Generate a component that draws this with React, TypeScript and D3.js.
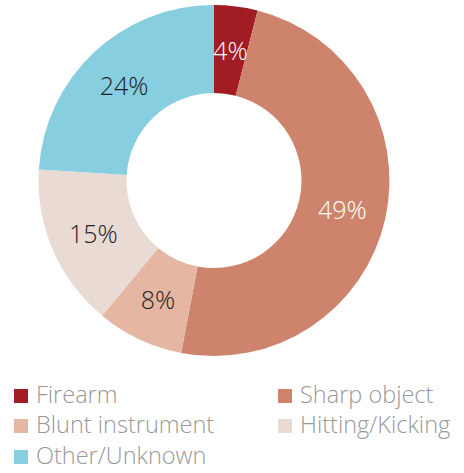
import React from "react";
import * as d3 from "d3";

const categories = ["Firearm", "Sharp object", "Blunt instrument", "Hitting/Kicking", "Other/Unknown"];
const values = [4, 49, 8, 15, 24];
const colors = ["#A21D23", "#CE846C", "#E5B6A2", "#E9DBD4", "#87CEE0"];
const labelColors = ["#ffffff", "#ffffff", "#222222", "#222222", "#222222"];

const FONT = "'Open Sans', 'Noto Sans', sans-serif";

export default function App() {
  const width = 464;
  const height = 473;
  const cx = 214;
  const cy = 180.5;
  const outerR = 175.5;
  const innerR = 87.5;

  const pie = d3.pie<number>().sort(null).value((d) => d);
  const arcs = pie(values);
  const arc = d3.arc<d3.PieArcDatum<number>>().innerRadius(innerR).outerRadius(outerR);

  const legendPos = [
    [14, 389],
    [278, 389],
    [14, 419],
    [278, 419],
    [14, 450],
  ];

  return (
    <svg width={width} height={height} style={{ position: "absolute", left: 0, top: 0 }}>
      <g transform={`translate(${cx},${cy})`}>
        {arcs.map((a, i) => (
          <path key={i} d={arc(a) || ""} fill={colors[i]} />
        ))}
        {arcs.map((a, i) => {
          const [x, y] = arc.centroid(a);
          return (
            <text
              key={"t" + i}
              x={x}
              y={y}
              textAnchor="middle"
              dominantBaseline="central"
              fontFamily={FONT}
              fontWeight={300}
              fontSize={25}
              fill={labelColors[i]}
            >
              {values[i]}%
            </text>
          );
        })}
      </g>
      {categories.map((c, i) => (
        <g key={"l" + i} transform={`translate(${legendPos[i][0]},${legendPos[i][1]})`}>
          <rect x={0} y={0} width={14} height={14} fill={colors[i]} />
          <text x={22} y={14} fontFamily={FONT} fontWeight={300} fontSize={23.5} fill="#999999">
            {c}
          </text>
        </g>
      ))}
    </svg>
  );
}
